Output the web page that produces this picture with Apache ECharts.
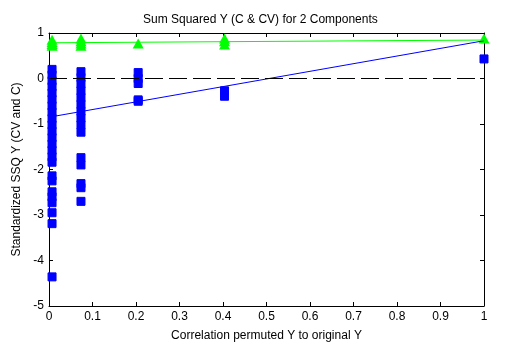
<!DOCTYPE html>
<html>
<head>
<meta charset="utf-8">
<script src="https://cdn.jsdelivr.net/npm/echarts@6/dist/echarts.min.js"></script>
<style>
  html, body { margin: 0; padding: 0; background: #fff; }
  #chart { width: 506px; height: 351px; }
</style>
</head>
<body>
<div id="chart"></div>
<script>
// correlation of permuted Y to original Y (one column of points per value)
const corr = [0.007, 0.0735, 0.205, 0.4035, 1];

// standardized SSQ Y, cross-validated (blue squares), per column
const ssqCV = [
  [0.2, 0.08, -0.05, -0.18, -0.32, -0.46, -0.6, -0.74, -0.88, -1.02, -1.16, -1.3, -1.44, -1.58, -1.72, -1.84,
   -2.14, -2.25, -2.49, -2.6, -2.73, -2.95, -3.19, -4.36],
  [0.15, 0.02, -0.12, -0.27, -0.42, -0.57, -0.72, -0.87, -1.02, -1.18, -1.74, -1.9, -2.31, -2.4, -2.7],
  [0.13, 0.0, -0.11, -0.47, -0.5],
  [-0.27, -0.39],
  [0.43]
];

// standardized SSQ Y, calibration (green triangles), per column
const ssqC = [
  [0.85, 0.8, 0.76, 0.72],
  [0.88, 0.82, 0.77, 0.72],
  [0.77],
  [0.88, 0.82, 0.75],
  [0.88]
];

// fitted lines, value at corr = 0 and corr = 1
const fitCV = [-0.85, 0.83];
const fitC = [0.785, 0.845];

const xTicks = ['0', '0.1', '0.2', '0.3', '0.4', '0.5', '0.6', '0.7', '0.8', '0.9', '1'];

const toPoints = (cols) => cols.flatMap((vals, i) => vals.map(v => [corr[i], v]));

const chart = echarts.init(document.getElementById('chart'));
const font = 'Liberation Sans, Arial, sans-serif';

const boxAxis = {
  min: 0,
  max: 1,
  interval: 0.1,
  axisLine: {show: true, onZero: false, lineStyle: {color: '#000', width: 1}},
  axisTick: {show: true, inside: true, length: 4, lineStyle: {color: '#000'}},
  splitLine: {show: false},
};

const option = {
  animation: false,
  backgroundColor: '#fff',
  title: {
    text: 'Sum Squared Y (C & CV) for 2 Components',
    left: 138,
    top: 9,
    textStyle: {fontFamily: font, fontSize: 12, fontWeight: 'normal', color: '#000'}
  },
  grid: {left: 49, right: 22, top: 33, bottom: 45},
  xAxis: [
    {
      ...boxAxis,
      type: 'value',
      position: 'bottom',
      name: 'Correlation permuted Y to original Y',
      nameLocation: 'middle',
      nameGap: 24,
      nameTextStyle: {fontFamily: font, fontSize: 12, color: '#000'},
      axisLabel: {
        fontFamily: font, fontSize: 12, color: '#000', margin: 5,
        formatter: (v) => xTicks[Math.round(v * 10)]
      }
    },
    {...boxAxis, type: 'value', position: 'top', axisLabel: {show: false}}
  ],
  yAxis: [
    {
      ...boxAxis,
      type: 'value',
      min: -5,
      max: 1,
      interval: 1,
      position: 'left',
      name: 'Standardized SSQ Y (CV and C)',
      nameLocation: 'middle',
      nameGap: 23,
      nameTextStyle: {fontFamily: font, fontSize: 12, color: '#000'},
      axisLabel: {fontFamily: font, fontSize: 12, color: '#000', margin: 5}
    },
    {...boxAxis, type: 'value', min: -5, max: 1, interval: 1, position: 'right', axisLabel: {show: false}}
  ],
  series: [
    {
      name: 'CV',
      type: 'scatter',
      symbol: 'rect',
      symbolSize: 8,
      itemStyle: {color: '#0000ff', opacity: 1, borderColor: '#0000ff', borderWidth: 1},
      emphasis: {disabled: true},
      data: toPoints(ssqCV)
    },
    {
      name: 'C',
      type: 'scatter',
      symbol: 'triangle',
      symbolSize: [11, 10],
      itemStyle: {color: '#00ff00', opacity: 1, borderWidth: 0},
      emphasis: {disabled: true},
      data: toPoints(ssqC)
    },
    {
      name: 'fit CV',
      type: 'line',
      showSymbol: false,
      lineStyle: {color: '#0000ff', width: 1},
      data: [[0, fitCV[0]], [1, fitCV[1]]]
    },
    {
      name: 'fit C',
      type: 'line',
      showSymbol: false,
      lineStyle: {color: '#00ff00', width: 1},
      data: [[0, fitC[0]], [1, fitC[1]]]
    },
    {
      name: 'zero',
      type: 'line',
      showSymbol: false,
      lineStyle: {color: '#000', width: 1, type: [18, 6]},
      data: [[0, 0], [1, 0]]
    }
  ]
};
chart.setOption(option);

window.addEventListener('resize', () => {
  chart.resize();
});
</script>
</body>
</html>
